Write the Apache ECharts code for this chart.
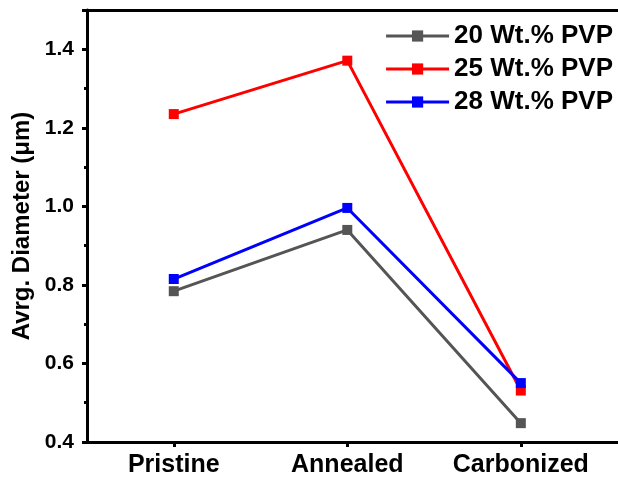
<!DOCTYPE html>
<html>
<head>
<meta charset="utf-8">
<script src="https://cdn.jsdelivr.net/npm/echarts@6/dist/echarts.min.js"></script>
<style>html,body{margin:0;padding:0;background:#fff}#c{width:618px;height:480px}</style>
</head>
<body>
<div id="c"></div>
<script>
const categories = ['Pristine', 'Annealed', 'Carbonized'];
const seriesNames = ['20 Wt.% PVP', '25 Wt.% PVP', '28 Wt.% PVP'];
const pvp20 = [0.784, 0.940, 0.448];
const pvp25 = [1.235, 1.371, 0.531];
const pvp28 = [0.815, 0.996, 0.550];
const colors = ['#555555', '#ff0000', '#0000ff'];
const yName = 'Avrg. Diameter (\u03bcm)';

const FONT = '"Liberation Sans", Arial, sans-serif';
const chart = echarts.init(document.getElementById('c'), null, {renderer: 'canvas'});
const catPos = categories.map((c, i) => i + 1);
const midPos = [1.5, 2.5];
const mk = (name, vals, color, z) => ({
  name, type: 'line', data: vals.map((v, i) => [catPos[i], v]), xAxisIndex: 0, yAxisIndex: 0,
  symbol: 'rect', symbolSize: 10, z,
  lineStyle: {color, width: 3}, itemStyle: {color},
  animation: false
});
const X_MIN = 0.5, X_MAX = 3.56;
chart.setOption({
  animation: false,
  textStyle: {fontFamily: FONT},
  grid: {left: 87, top: 10, bottom: 38, right: 0},
  legend: {
    data: seriesNames, orient: 'vertical', right: 0, top: 18,
    itemWidth: 63, itemHeight: 14, itemGap: 7,
    lineStyle: {width: 3},
    textStyle: {fontFamily: FONT, fontSize: 26, fontWeight: 'bold', color: '#000', lineHeight: 26}
  },
  xAxis: [
    {type: 'value', min: X_MIN, max: X_MAX, position: 'bottom',
     axisLine: {show: true, lineStyle: {color: '#000', width: 3}},
     axisTick: {show: true, customValues: catPos, length: 5, lineStyle: {width: 3, color: '#000'}},
     axisLabel: {customValues: catPos, fontFamily: FONT, fontSize: 25, fontWeight: 'bold', color: '#000', margin: 11,
                 formatter: v => categories[Math.round(v) - 1] || ''},
     splitLine: {show: false}},
    {type: 'value', min: X_MIN, max: X_MAX, position: 'bottom',
     axisLine: {show: false},
     axisTick: {show: true, customValues: midPos, length: 2, lineStyle: {width: 3, color: '#000'}},
     axisLabel: {show: false}, splitLine: {show: false}},
    {type: 'value', min: X_MIN, max: X_MAX, position: 'top',
     axisLine: {show: true, lineStyle: {color: '#000', width: 3}},
     axisTick: {show: false}, axisLabel: {show: false}, splitLine: {show: false}}
  ],
  yAxis: {
    type: 'value', min: 0.4, max: 1.5, interval: 0.2,
    name: yName, nameLocation: 'middle', nameGap: 51, nameRotate: 90,
    nameTextStyle: {fontFamily: FONT, fontSize: 24, fontWeight: 'bold', color: '#000'},
    axisLine: {show: true, lineStyle: {color: '#000', width: 3}},
    axisTick: {show: true, length: 5, lineStyle: {width: 3, color: '#000'}},
    minorTick: {show: true, splitNumber: 2, length: 3, lineStyle: {width: 3, color: '#000'}},
    axisLabel: {fontFamily: FONT, fontSize: 21, fontWeight: 'bold', color: '#000', margin: 13,
                showMaxLabel: false, formatter: v => v.toFixed(1)},
    splitLine: {show: false}
  },
  series: [
    mk(seriesNames[0], pvp20, colors[0], 2),
    mk(seriesNames[1], pvp25, colors[1], 3),
    mk(seriesNames[2], pvp28, colors[2], 4)
  ]
});
</script>
</body>
</html>
